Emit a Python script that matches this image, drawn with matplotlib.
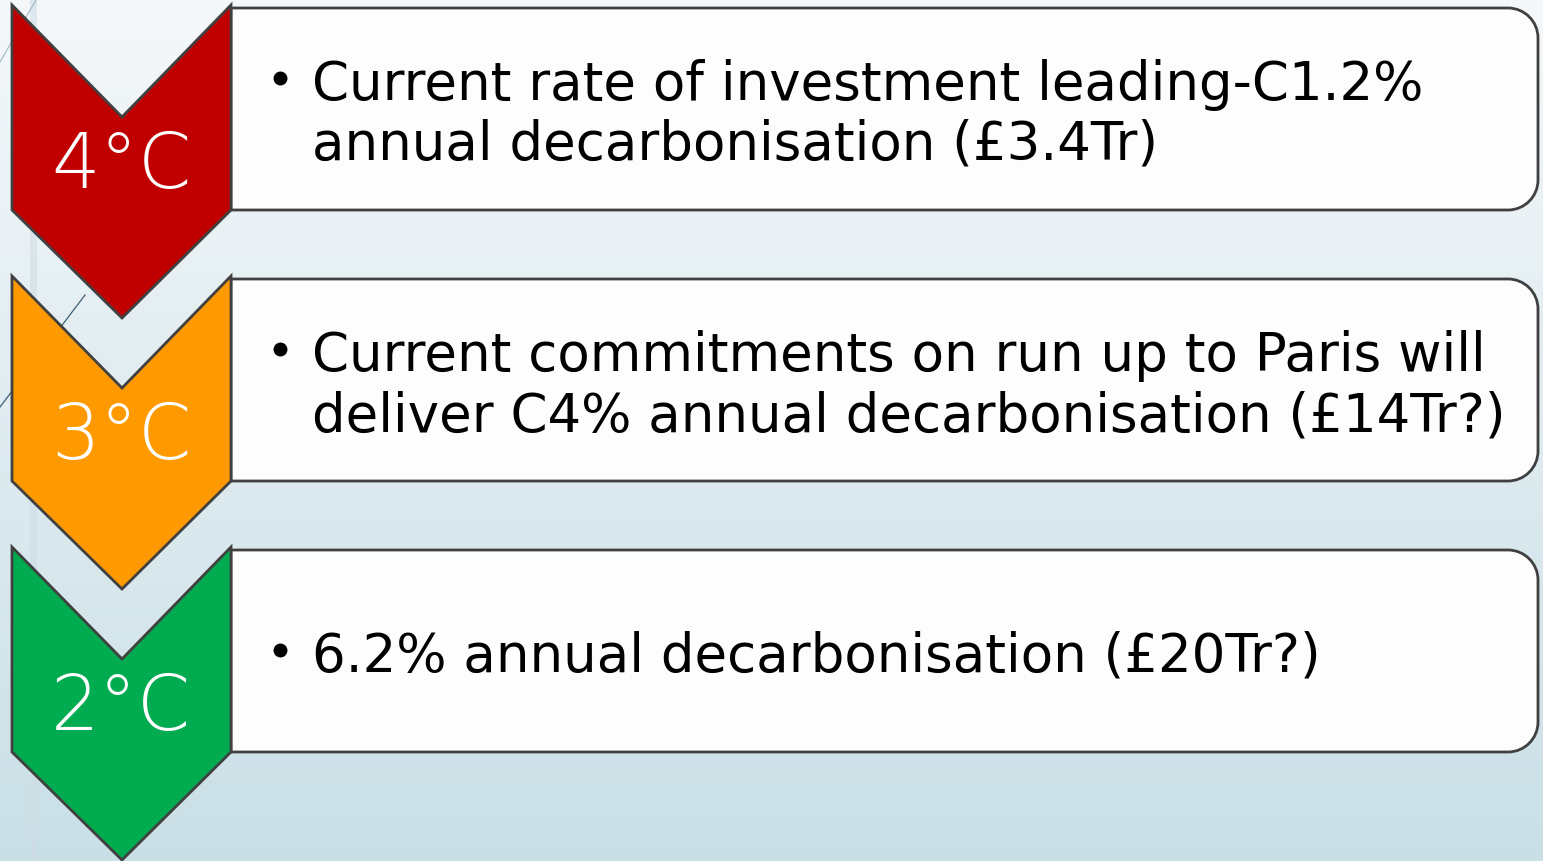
import matplotlib
matplotlib.use("Agg")
import matplotlib.pyplot as plt
import numpy as np
from matplotlib.patches import Polygon, PathPatch
from matplotlib.path import Path

# ---- data ----
labels = ["4°C", "3°C", "2°C"]
colors = ["#c00000", "#ff9900", "#00ac4f"]
texts = [
    ["Current rate of investment leading-C1.2%", "annual decarbonisation (£3.4Tr)"],
    ["Current commitments on run up to Paris will", "deliver C4% annual decarbonisation (£14Tr?)"],
    ["6.2% annual decarbonisation (£20Tr?)"],
]

W, H = 1543, 861
fig = plt.figure(figsize=(W / 100, H / 100), dpi=100)
ax = fig.add_axes([0, 0, 1, 1])
ax.set_xlim(0, W)
ax.set_ylim(H, 0)
ax.axis("off")

# background gradient
top = np.array([0xf5, 0xf8, 0xfa]) / 255
bot = np.array([0xc9, 0xdf, 0xe6]) / 255
t = np.linspace(0, 1, 256)[:, None]
grad = top[None, :] * (1 - t) + bot[None, :] * t
ax.imshow(grad[:, None, :], extent=[0, W, H, 0], aspect="auto", zorder=0)

# faint decorative elements
ax.fill_between([30, 37], 0, 861, color="#cfdde5", alpha=0.6, zorder=0.5, lw=0)
ax.plot([0, 36], [62, 0], color="#9fb6c4", lw=0.8, zorder=0.6)
ax.plot([0, 85], [407, 295], color="#3e5f75", lw=0.9, zorder=0.6)

edge = "#404040"
step = 271
for i, (lab, col, lines) in enumerate(zip(labels, colors, texts)):
    y0 = 5 + step * i
    # rounded box (right corners rounded)
    x0, x1 = 231, 1538
    yt, yb = y0 + 3, y0 + 205
    r = 30
    k = 0.5523 * r
    verts = [
        (x0, yt), (x1 - r, yt),
        (x1 - r + k, yt), (x1, yt + r - k), (x1, yt + r),
        (x1, yb - r),
        (x1, yb - r + k), (x1 - r + k, yb), (x1 - r, yb),
        (x0, yb), (x0, yt),
    ]
    codes = [Path.MOVETO, Path.LINETO,
             Path.CURVE4, Path.CURVE4, Path.CURVE4,
             Path.LINETO,
             Path.CURVE4, Path.CURVE4, Path.CURVE4,
             Path.LINETO, Path.CLOSEPOLY]
    ax.add_patch(PathPatch(Path(verts, codes), facecolor="#fdfdfd",
                           edgecolor=edge, lw=2.0, zorder=2))
    # chevron
    pts = [(12, y0), (122, y0 + 112), (231, y0), (231, y0 + 205),
           (122, y0 + 313), (12, y0 + 205)]
    ax.add_patch(Polygon(pts, closed=True, facecolor=col, edgecolor=edge,
                         lw=2.0, zorder=3, joinstyle="miter"))
    ax.text(121, y0 + 183, lab, color="white", fontsize=55, ha="center",
            va="baseline", zorder=4, family="DejaVu Sans", fontweight="light")
    # bullet text
    if len(lines) == 2:
        bases = [y0 + 95, y0 + 155]
    else:
        bases = [y0 + 125]
    ax.plot(280, bases[0] - 22, "o", color="black", ms=9, zorder=4)
    for ln, b in zip(lines, bases):
        ax.text(312, b, ln, color="black", fontsize=38.2, ha="left",
                va="baseline", zorder=4, family="DejaVu Sans")

fig.savefig("out.png", dpi=100)
